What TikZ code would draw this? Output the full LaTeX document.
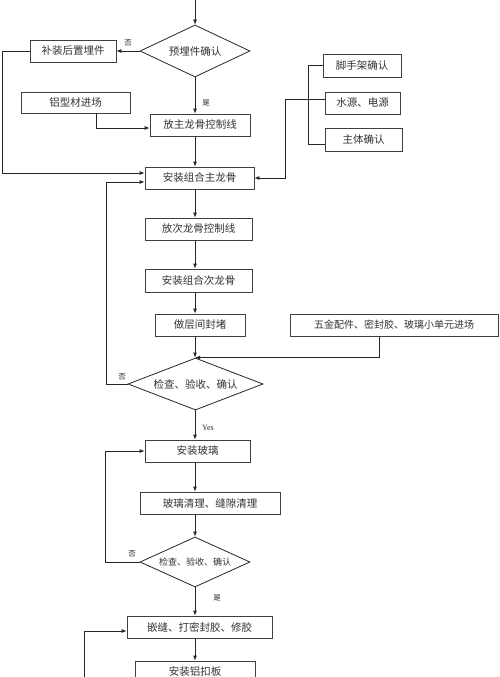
\documentclass[tikz,border=0pt]{standalone}
\usepackage{fontspec}
\setmainfont{Liberation Serif}
\newfontfamily\cjk{Noto Sans CJK SC}
\usetikzlibrary{shapes.geometric,arrows.meta}
\tikzset{
  box/.style={draw=black!75, line width=0.8pt, rectangle, inner sep=0pt, text=black!80,
    font=\cjk\fontsize{10.5}{12}\selectfont},
  diam/.style={draw=black!85, line width=0.8pt, diamond, inner sep=0pt},
  dtext/.style={inner sep=0pt, text=black!80, font=\cjk\fontsize{10.5}{12}\selectfont},
  lbl/.style={inner sep=0pt, text=black!85, font=\cjk\fontsize{7.5}{9}\selectfont},
  ln/.style={draw=black!85, line width=0.8pt},
  arr/.style={ln, -{Latex[length=5pt,width=4pt]}},
}
\begin{document}
\begin{tikzpicture}[x=1pt,y=-1pt]
\clip (0,0) rectangle (500,677);
\fill[white] (0,0) rectangle (500,677);
% nodes
\node[diam, minimum width=110pt, minimum height=52pt] (d1) at (195,51) {};
\node[dtext] (d1t) at (d1) {预埋件确认};
\node[box, minimum width=86pt, minimum height=22pt] (b1) at (73,51) {补装后置埋件};
\node[box, minimum width=109pt, minimum height=21pt] (b2) at (75.5,102.5) {铝型材进场};
\node[box, minimum width=100pt, minimum height=22pt] (b3) at (200,125) {放主龙骨控制线};
\node[box, minimum width=109pt, minimum height=22pt] (b4) at (199.5,178) {安装组合主龙骨};
\node[box, minimum width=78pt, minimum height=23pt] (r1) at (362,65.5) {脚手架确认};
\node[box, minimum width=75pt, minimum height=22pt] (r2) at (362.5,103) {水源、电源};
\node[box, minimum width=77pt, minimum height=23pt] (r3) at (363.5,139.5) {主体确认};
\node[box, minimum width=107pt, minimum height=22pt] (b5) at (198.5,229) {放次龙骨控制线};
\node[box, minimum width=107pt, minimum height=23pt] (b6) at (198.5,280.5) {安装组合次龙骨};
\node[box, minimum width=90pt, minimum height=22pt] (b7) at (200,325) {做层间封堵};
\node[box, minimum width=208pt, minimum height=22pt, font=\cjk\fontsize{10}{12}\selectfont] (b8) at (394,325) {五金配件、密封胶、玻璃小单元进场};
\node[diam, minimum width=135pt, minimum height=52pt] (d2) at (195.5,384) {};
\node[dtext] (d2t) at (d2) {检查、验收、确认};
\node[box, minimum width=105pt, minimum height=22pt] (b9) at (197.5,451) {安装玻璃};
\node[box, minimum width=140pt, minimum height=22pt] (b10) at (210,503) {玻璃清理、缝隙清理};
\node[diam, minimum width=110pt, minimum height=50pt] (d3) at (195,562) {};
\node[dtext, font=\cjk\fontsize{9}{11}\selectfont] (d3t) at (d3) {检查、验收、确认};
\node[box, minimum width=145pt, minimum height=22pt] (b11) at (199.5,627) {嵌缝、打密封胶、修胶};
\node[box, minimum width=120pt, minimum height=22pt] (b12) at (195,672) {安装铝扣板};
% labels
\node[lbl] (l1) at (128,43) {否};
\node[lbl] (l2) at (206,103) {是};
\node[lbl] (l3) at (122,377) {否};
\node[lbl, font=\fontsize{8}{9}\selectfont] (l4) at (208,428) {Yes};
\node[lbl] (l5) at (132,554) {否};
\node[lbl] (l6) at (217,598) {是};
% coordinates
\coordinate (top) at (195,-2);
\coordinate (bot) at (84,690);
% main column
\draw[arr] (top) -- (d1.north);
\draw[arr] (d1.south) -- (d1.south |- b3.north);
\draw[arr] (d1.south |- b3.south) -- (d1.south |- b4.north);
\draw[arr] (d1.south |- b4.south) -- (d1.south |- b5.north);
\draw[arr] (d1.south |- b5.south) -- (d1.south |- b6.north);
\draw[arr] (d1.south |- b6.south) -- (d1.south |- b7.north);
\draw[arr] (d1.south |- b7.south) -- (d2.north -| d1.south);
\draw[arr] (d2.south -| d1.south) -- (d1.south |- b9.north);
\draw[arr] (d1.south |- b9.south) -- (d1.south |- b10.north);
\draw[arr] (d1.south |- b10.south) -- (d3.north);
\draw[arr] (d3.south) -- (d3.south |- b11.north);
\draw[arr] (d3.south |- b11.south) -- (d3.south |- b12.north);
% side connectors
\draw[arr] (d1.west) -- (b1.east);
\draw[arr] (b1.west) -- ++(-27,0) |- ([yshift=5pt]b4.west);
\draw[arr] ([xshift=20.5pt]b2.south) |- ([yshift=-3pt]b3.west);
\draw[ln] (r1.west) -- ++(-14,0) |- ([yshift=-4.5pt]r3.west);
\draw[arr] ([yshift=4pt]r2.west) -- (285,99) |- (b4.east);
\draw[arr] ([xshift=-15pt]b8.south) |- (d2.north -| d1.south);
\draw[arr] (d2.west) -- (106,384) |- ([yshift=-4pt]b4.west);
\draw[arr] (d3.west) -- (105,562) |- (b9.west);
\draw[arr] (bot) |- ([yshift=-4pt]b11.west);
\end{tikzpicture}
\end{document}
